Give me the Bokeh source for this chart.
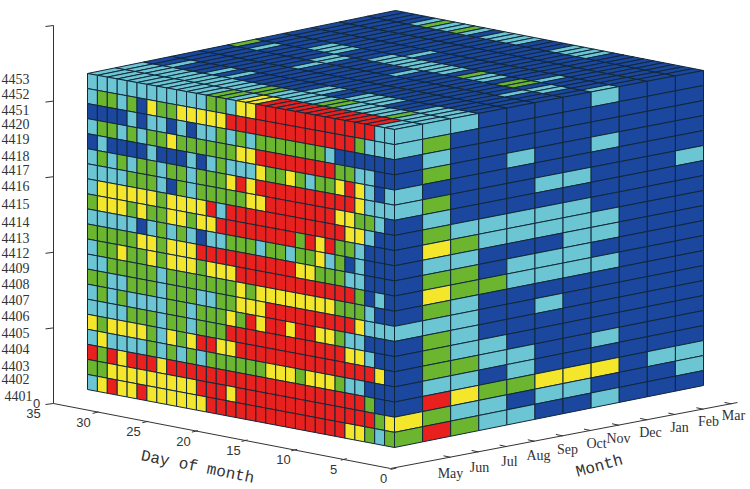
from bokeh.plotting import figure
from bokeh.models import Range1d, ColumnDataSource
from bokeh.core.properties import value
from bokeh.embed import file_html
from bokeh.resources import INLINE

# B blue, C cyan, G green, Y yellow, R red
PALETTE = {"B": "#1B479E", "C": "#6CC5D2", "G": "#6CB52F", "Y": "#F4E62B", "R": "#E8211F"}

row_labels = ["4453","4452","4451","4420","4419","4418","4417","4416","4415","4414","4413",
              "4412","4409","4408","4407","4406","4405","4404","4403","4402","4401"]
month_labels = ["May","Jun","Jul","Aug","Sep","Oct","Nov","Dec","Jan","Feb","Mar"]
day_ticks = [0,5,10,15,20,25,30,35]

# left face: row (top to bottom), day 31 -> day 1
day_face = [
 "CCCCCCCCCCCCGGCYYRRRRRRRRRRRRCC",
 "CGGCGBYGGYYYYYRRRRRRRRRRRRRGCCC",
 "BBBBCBCCBCBCCGCGCGGGGGGGCBBBBBB",
 "CGGCGCGGYGGGGGGYYRRRRRRRRGGCCBB",
 "BCBBBBCBBBCBCGCCCYGGYGCGGYRYCBC",
 "CGCGCGGCGGCGGGYRYRRRRRRRRRRYCCC",
 "CCCCGGGCBGCGGGGGYYRRRRRRRYYGGCB",
 "CYYYYYYGYYYYRCRRRRRRRRRRRRYYCBB",
 "GYYYGYGGYYGYYRRRRRRRRGRYRGGCBBB",
 "CCCCCBCGCGCBCCGGGCGGCGGYCGBCBBB",
 "GGGGGYYGYYYRRRRRRRRRRYYGGGCCBBB",
 "CGGYGGYGYYYGYYYRRRRRRRRRRRRGBCB",
 "CCGGGGGCGGGGGGGYGYYYYYYYYGGGCBB",
 "GGCCGGGCGGGCCGGYYYRRRRRRRRRYCCC",
 "CGCGCCCCGGCGGGYGRYRRYRRYYGCCBBB",
 "CCCCGGGCGGCGGGRRRRRRRRRRRRYYCBB",
 "YGYYYYGCYGYRRYYRRRRRRRRRRRRRRYB",
 "CYCCCCGCGCGCGGGGGGYYYGYYYGCCBBB",
 "RGRYRRRYRRRRRRRRRRRRRRRRRRRRGBB",
 "GGYYYYYYYYYRRRYRRRRRRRRRRRRRRGY",
 "CYRYYRYYYYYYRRRRRRRRRRRRRRYYGCG",
]
# right face: month column (May -> Mar), row top to bottom
month_face = [
 "CCBBCCBBBBBBBCBBBBBYG",
 "CGCGBGCGYCGYGCGGGCRGR",
 "CBBBBBBCGCGGCCCCGCYCG",
 "BBBBBBBCCBBGBBBCCBGCC",
 "BBBCBBBCCBCCBBBBCCGBC",
 "BBBBBCBCCBCCBCBBBBYCB",
 "BBBBBCBCCCCCBBBBBBYCB",
 "CBBCBBBBCCBCBBBBCBYBC",
 "BBBBBBBBBBBBBBBBBBBBB",
 "BBBBBBBBBBBBBBBBBBCBB",
 "BBBBBCBBBBBBBBBBBBCCB",
]
# top face: month strip (May -> Mar), day 31 -> day 1
top_face = [
 "CCCCCCCCCCCCGGCYYRRRRRRRRRRRRCC",
 "CCCCCCCCCCCCCGGCCCCCGGCCCCCGCCC",
 "BBCBBBCBCBBBBBBBCCBBCCCCBBBCCCC",
 "BBBBBBBBBBBBBBBBBBBBBBBBBBBBBBB",
 "BBBBBBBBBCBBBBBBBBBBBBBBBBBBBBB",
 "GBCBBBBBCCBBBBBBCBBBBBBBBBBCBBB",
 "BBBBBCCCBBBCCCCCCCCBGCCBGGBCCBB",
 "BBBBBBBBBBBBCBBBBBBBBBBBBCBBBBC",
 "BBBBBBBBBBBBBBBBBBBBBBBBBBBBBBB",
 "BBBBBBBBBBBBBBBBBBBBBBBBBBBBBBB",
 "BBBBCGCCGCBCCCCBBBCCCCBBBBBBBBB",
]

N_DAY, N_MONTH, N_ROW = 31, 11, 21

# screen position of the cube's eight corners (front/left/right/back, bottom/top)
FB, LB, RB, BB = (394, 447), (87, 389), (703, 385), (396, 327)
FT, LT, RT, BT = (394, 129), (87, 73), (703, 70), (395, 10)

def proj(d, m, z):
    u, v, w = d / N_DAY, m / N_MONTH, z / N_ROW
    out = []
    for i in (0, 1):
        bot = (1-u)*(1-v)*FB[i] + u*(1-v)*LB[i] + (1-u)*v*RB[i] + u*v*BB[i]
        top = (1-u)*(1-v)*FT[i] + u*(1-v)*LT[i] + (1-u)*v*RT[i] + u*v*BT[i]
        out.append((1-w)*bot + w*top)
    return out

def add_cell(store, corners, code):
    store["xs"].append([c[0] for c in corners])
    store["ys"].append([c[1] for c in corners])
    store["color"].append(PALETTE[code])

cells = {"xs": [], "ys": [], "color": []}
for m, strip in enumerate(top_face):
    for c, code in enumerate(strip):
        d = N_DAY - c
        add_cell(cells, [proj(d, m, N_ROW), proj(d-1, m, N_ROW), proj(d-1, m+1, N_ROW), proj(d, m+1, N_ROW)], code)
for r, row in enumerate(day_face):
    for c, code in enumerate(row):
        d, z = N_DAY - c, N_ROW - r
        add_cell(cells, [proj(d, 0, z), proj(d-1, 0, z), proj(d-1, 0, z-1), proj(d, 0, z-1)], code)
for m, col in enumerate(month_face):
    for r, code in enumerate(col):
        z = N_ROW - r
        add_cell(cells, [proj(0, m, z), proj(0, m+1, z), proj(0, m+1, z-1), proj(0, m, z-1)], code)

p = figure(width=750, height=489, x_range=Range1d(0, 750), y_range=Range1d(489, 0),
           output_backend="svg", toolbar_location=None, min_border=0)
p.axis.visible = False
p.grid.visible = False
p.outline_line_color = None
p.background_fill_color = "white"
p.border_fill_color = "white"

p.patches("xs", "ys", source=ColumnDataSource(cells), fill_color="color",
          line_color="#10283A", line_width=1)

AX = "#333333"
# vertical axis
p.line([53, 53], [25, 403], line_color=AX, line_width=1)
for i in range(6):
    y = 403 - i * 75.6
    p.line([45, 53], [y + 1, y], line_color=AX, line_width=1)
# day axis
p.line([53, 390], [403, 468], line_color=AX, line_width=1)
for d in day_ticks[:-1]:
    x, y = 393 - 9.93 * d, 469 - 1.87 * d
    p.line([x - 3, x + 3], [y, y - 1.5], line_color=AX, line_width=1)
# month axis
p.line([390, 737], [468, 402], line_color=AX, line_width=1)
for m in range(N_MONTH):
    x = 449 + 28.1 * m
    y = 468 - (x - 390) * 0.19
    p.line([x - 6, x + 1], [y - 1.5, y], line_color=AX, line_width=1)

row_y = [78,93,109,123,138,155,169,185,203,221,237,252,267,283,299,315,332,348,365,378,395]
row_x = [1]*20 + [4]
p.text(row_x, row_y, text=row_labels, text_font=value("Liberation Serif"), text_font_size="14px",
       text_color="#333333", text_align="left", text_baseline="middle")

month_x = [450,479,509,538,567,596,618,650,679,708,733]
month_y = [473,467,461,455,449,443,438,432,427,421,415]
p.text(month_x, month_y, text=month_labels, text_font=value("Liberation Serif"), text_font_size="14px",
       text_color="#333333", text_align="center", text_baseline="middle")

p.text([383 - 10 * d for d in day_ticks], [478 - 1.87 * d for d in day_ticks],
       text=[str(d) for d in day_ticks], text_font=value("Liberation Sans"), text_font_size="13px",
       text_color="#333333", text_align="center", text_baseline="middle")
p.text([36], [403], text=["0"], text_font=value("Liberation Sans"), text_font_size="13px",
       text_color="#333333", text_align="center", text_baseline="middle")

p.text([197], [467], text=["Day of month"], angle=-0.2, text_font=value("Liberation Mono"),
       text_font_size="16px", text_color="#333333", text_align="center", text_baseline="middle")
p.text([599], [466], text=["Month"], angle=0.27, text_font=value("Liberation Mono"),
       text_font_size="16px", text_color="#333333", text_align="center", text_baseline="middle")

assert all(len(r) == N_DAY for r in day_face + top_face)
assert all(len(r) == N_ROW for r in month_face)
open("out.html", "w").write(file_html(p, INLINE))
